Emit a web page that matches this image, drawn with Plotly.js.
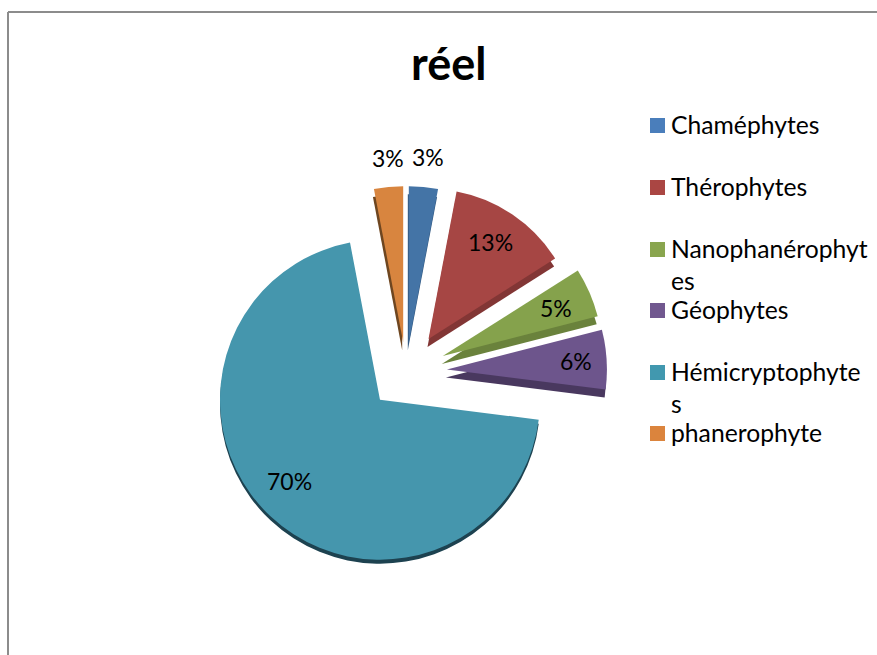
<!DOCTYPE html>
<html>
<head>
<meta charset="utf-8">
<script src="https://cdn.plot.ly/plotly-3.0.1.min.js"></script>
<style>html,body{margin:0;padding:0;background:#fff;overflow:hidden}</style>
</head>
<body>
<div id="chart" style="width:877px;height:655px"></div>
<script>
// Life-form spectrum, percent of species
const categories = ['Chaméphytes', 'Thérophytes', 'Nanophanérophytes', 'Géophytes', 'Hémicryptophytes', 'phanerophyte'];
const percents = [3, 13, 5, 6, 70, 3];
const chartTitle = 'réel';

const faceColors = ['#4474A6', '#A64644', '#85A24C', '#6D558C', '#4596AD', '#D8853F'];
const sideColors = ['#345A82', '#823635', '#6A823C', '#49385F', '#1D4250', '#6E4620'];
const keyColors = ['#4A7EBB', '#AA4643', '#89A54E', '#71588F', '#4198AF', '#DB843D'];
const CLEAR = 'rgba(0,0,0,0)';

// Per-slice explosion distance and radius, in pixels; the tilted view shortens upward slices
const explodePx = [30, 40, 40, 41, 38, 30];
const radiusPx = [156, 150, 160, 160, 160, 156];

const W = 877, H = 655, FONT = 'Lato, "Open Sans", sans-serif';
const px = x => x / W;
const py = y => 1 - y / H;
const cx = 406, cy = 372;

// One pie per radius: only the slices of that radius are painted, the others stay clear
const pieTrace = (radius, palette, offset) => {
  const pull = explodePx.map(p => p / radius);
  const half = radius * (1 + Math.max(...pull));
  const [dx, dy] = offset;
  return {
    type: 'pie', values: percents, labels: categories, sort: false, direction: 'clockwise',
    rotation: 0, pull, textinfo: 'none', hoverinfo: 'label+percent', showlegend: false,
    marker: {colors: palette.map((c, i) => radiusPx[i] === radius ? c : CLEAR), line: {width: 0}},
    domain: {x: [px(cx + dx - half), px(cx + dx + half)], y: [py(cy + dy + half), py(cy + dy - half)]}
  };
};
const radii = [...new Set(radiusPx)];
const HEMI = categories.indexOf('Hémicryptophytes');
const wedgeSides = sideColors.map((c, i) => i === HEMI ? CLEAR : c);
const bowlSide = sideColors.map((c, i) => i === HEMI ? c : CLEAR);

// Darker copies beneath give the slices their extruded edge
const traces = [
  ...radii.map(r => pieTrace(r, wedgeSides, [-1, 8])),
  ...radii.map(r => pieTrace(r, bowlSide, [0, 4])),
  ...radii.map(r => pieTrace(r, faceColors, [0, 0]))
];

// Percent labels
const labelAt = [[428, 157], [491, 242], [556, 308], [576, 361], [289, 481], [388, 158]];
const annotations = percents.map((v, i) => ({
  text: v + '%', xref: 'paper', yref: 'paper', x: px(labelAt[i][0]), y: py(labelAt[i][1]),
  showarrow: false, xanchor: 'center', yanchor: 'middle', font: {family: FONT, size: 23, color: '#000'}
}));

// Key text, broken the way the narrow key column wraps it
const keyLines = [['Chaméphytes'], ['Thérophytes'], ['Nanophanérophyt', 'es'], ['Géophytes'], ['Hémicryptophyte', 's'], ['phanerophyte']];
const keyY = [125, 187, 249, 310, 372, 433];
keyLines.forEach((lines, i) => lines.forEach((t, j) => annotations.push({
  text: t, xref: 'paper', yref: 'paper', x: px(669), y: py(keyY[i] - 1 + j * 32),
  showarrow: false, xanchor: 'left', yanchor: 'middle', font: {family: FONT, size: 24.7, color: '#000'}
})));

annotations.push({
  text: '<b>' + chartTitle + '</b>', xref: 'paper', yref: 'paper', x: px(448), y: py(63),
  showarrow: false, xanchor: 'center', yanchor: 'middle', font: {family: FONT, size: 45, color: '#000'}
});

const shapes = keyColors.map((c, i) => ({
  type: 'rect', xref: 'paper', yref: 'paper', x0: px(650), x1: px(665),
  y0: py(keyY[i] + 8), y1: py(keyY[i] - 7), fillcolor: c, line: {width: 0}
}));
// Chart-area frame, running off the right and bottom edges
const frame = {color: '#8c8c8c', width: 2};
shapes.push({type: 'line', xref: 'paper', yref: 'paper', x0: px(8), x1: 1, y0: py(12), y1: py(12), line: frame});
shapes.push({type: 'line', xref: 'paper', yref: 'paper', x0: px(8), x1: px(8), y0: py(12), y1: 0, line: frame});

Plotly.newPlot('chart', traces, {
  width: W, height: H, margin: {l: 0, r: 0, t: 0, b: 0},
  paper_bgcolor: '#fff', showlegend: false, annotations, shapes
}, {displayModeBar: false});
</script>
</body>
</html>
